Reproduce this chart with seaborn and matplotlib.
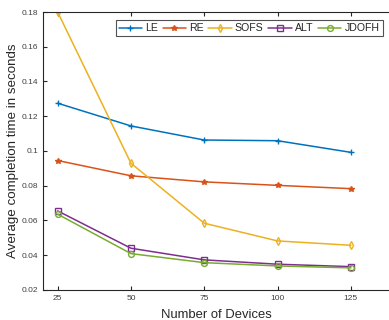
import numpy as np
import pandas as pd
import seaborn as sns
import matplotlib
matplotlib.use("Agg")
import matplotlib.pyplot as plt

# values
devices = [25, 50, 75, 100, 125]
le = [0.1275, 0.1144, 0.1063, 0.1059, 0.0992]
re = [0.0945, 0.0857, 0.0822, 0.0802, 0.0783]
sofs = [0.1800, 0.0929, 0.0584, 0.0482, 0.0457]
alt = [0.0655, 0.0440, 0.0373, 0.0348, 0.0334]
jdofh = [0.0636, 0.0409, 0.0357, 0.0338, 0.0327]

series = ["LE", "RE", "SOFS", "ALT", "JDOFH"]
colors = ["#0072BD", "#D95319", "#EDB120", "#7E2F8E", "#77AC30"]
markers = ["+", "*", "d", "s", "o"]

df = pd.DataFrame({"devices": devices, "LE": le, "RE": re, "SOFS": sofs,
                   "ALT": alt, "JDOFH": jdofh})
long_df = df.melt(id_vars="devices", var_name="method", value_name="time")

sns.set_style("white")
plt.rcParams["font.family"] = ["Liberation Sans", "DejaVu Sans"]

fig = plt.figure(figsize=(3.89, 3.2), dpi=100)
ax = fig.add_axes([0.1105, 0.094, 0.8895, 0.8685])

for name, col, mk in zip(series, colors, markers):
    sub = long_df[long_df["method"] == name]
    filled = mk in ("+", "*")
    sns.lineplot(data=sub, x="devices", y="time", ax=ax, color=col,
                 marker=mk, markersize=4.2 if mk != "*" else 4,
                 markerfacecolor=col if filled else "none",
                 markeredgecolor=col, markeredgewidth=1.0,
                 linewidth=1.1, label=name)

ax.set_xlim(20, 138)
ax.set_ylim(0.02, 0.18)
ax.set_xticks(devices)
ax.set_yticks([0.02, 0.04, 0.06, 0.08, 0.1, 0.12, 0.14, 0.16, 0.18])
ax.set_yticklabels(["0.02", "0.04", "0.06", "0.08", "0.1", "0.12", "0.14", "0.16", "0.18"])
ax.tick_params(axis="both", direction="in", labelsize=6, colors="#262626",
               length=3, width=0.8, top=True, bottom=True, left=True, right=False)
ax.tick_params(axis="both", labelcolor="#404040")

for s in ["left", "bottom", "top"]:
    ax.spines[s].set_color("#262626")
    ax.spines[s].set_linewidth(0.8)
ax.spines["right"].set_visible(False)

ax.set_xlabel("Number of Devices", fontsize=9.4, color="#262626", labelpad=5)
ax.set_ylabel("Average completion time in seconds", fontsize=9.6, color="#262626", labelpad=2)

leg = ax.legend(loc="upper right", ncol=5, fontsize=7.6, frameon=True,
                fancybox=False, edgecolor="#262626", handlelength=2.2,
                handletextpad=0.3, columnspacing=0.45, borderpad=0.3,
                borderaxespad=0.5, bbox_to_anchor=(0.997, 0.99))
leg.get_frame().set_linewidth(0.8)

fig.savefig("out.png", dpi=100)
